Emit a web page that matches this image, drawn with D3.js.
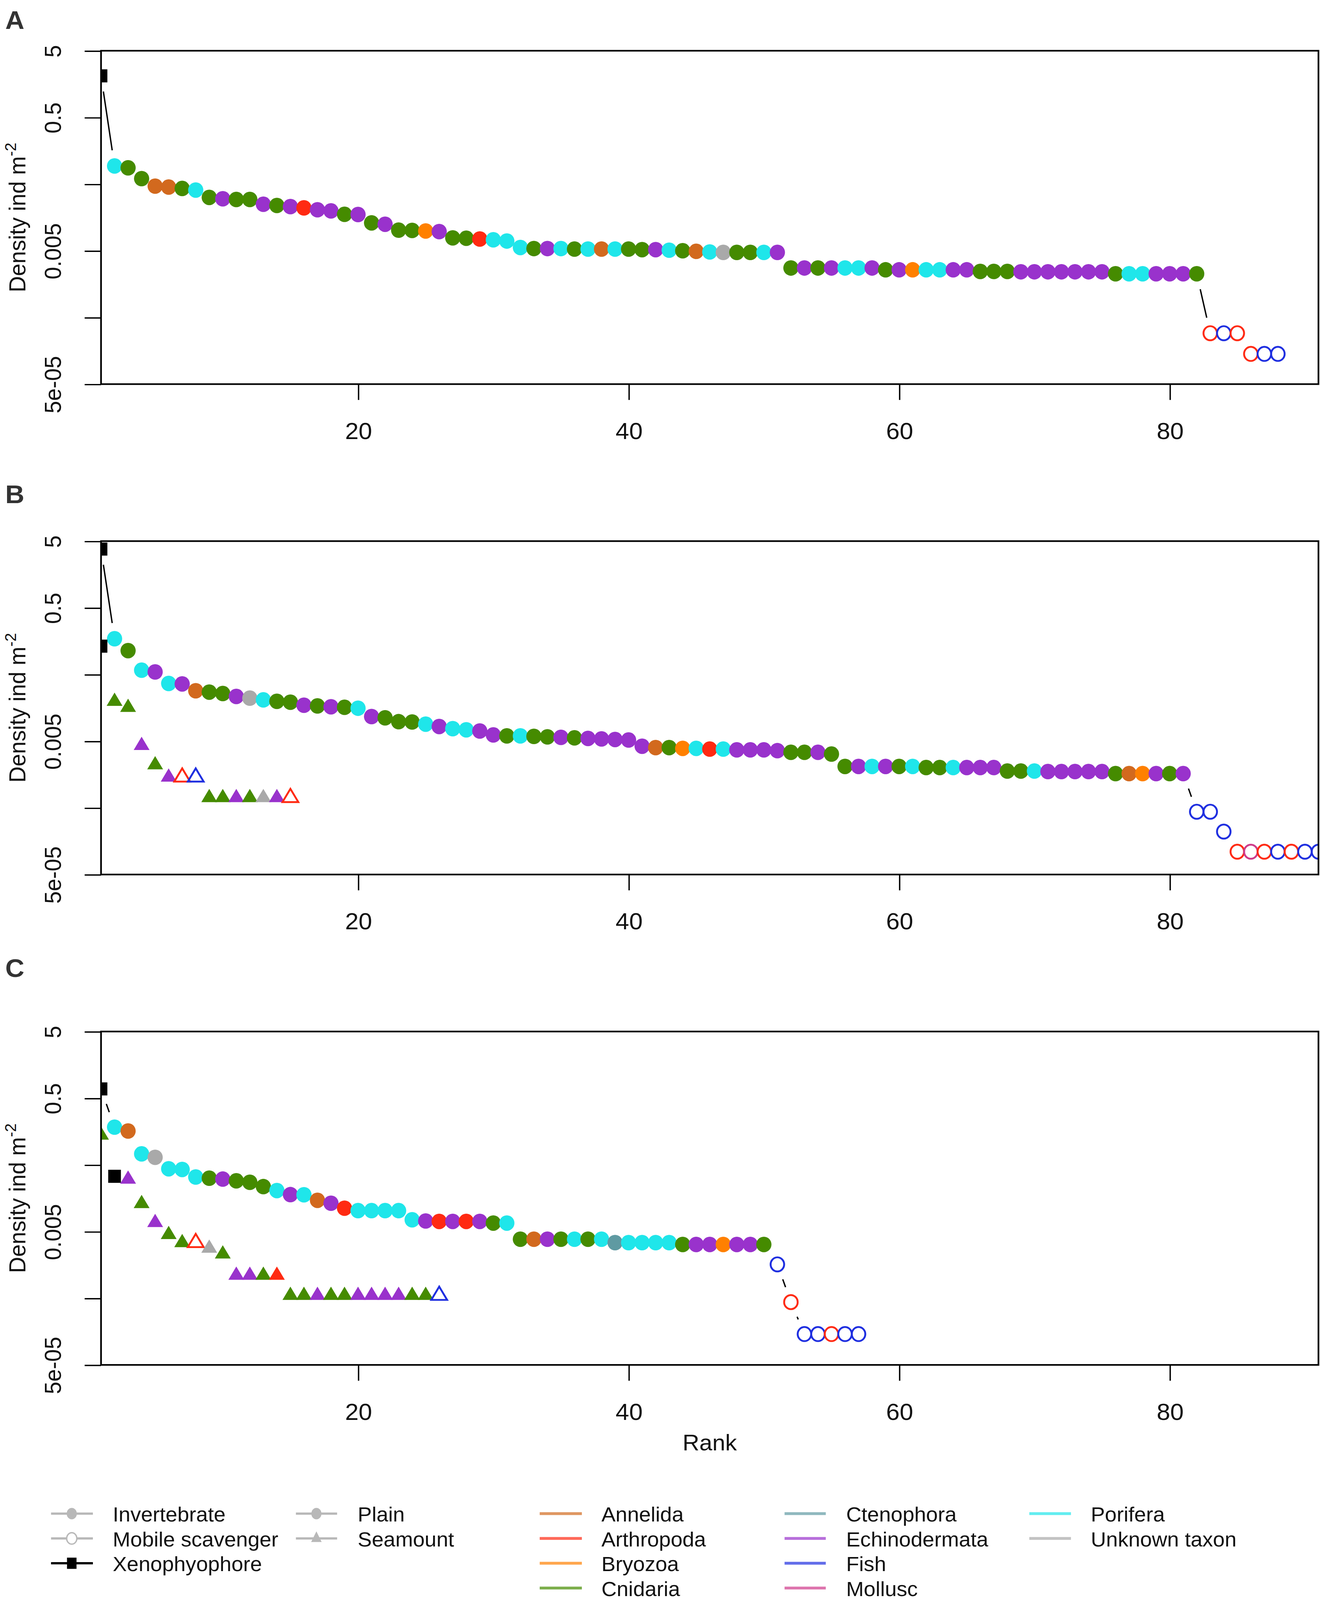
<!DOCTYPE html>
<html>
<head>
<meta charset="utf-8">
<script src="https://cdn.jsdelivr.net/npm/d3@7"></script>
<style>
  html, body { margin: 0; padding: 0; background: #fff; overflow: hidden; }
  svg { display: block; }
  text { font-family: "Liberation Sans", Arial, Helvetica, sans-serif; }
</style>
</head>
<body>
<div id="fig"></div>
<script>
// ---- categories ----
var taxa = ["Annelida", "Arthropoda", "Bryozoa", "Cnidaria", "Ctenophora",
            "Echinodermata", "Fish", "Mollusc", "Porifera", "Unknown taxon"];
var taxonCodes = ["An", "Ar", "Br", "Cn", "Ct", "Ec", "Fi", "Mo", "Po", "Un"];
var taxonColours = ["#d2691e", "#ff2a12", "#ff8000", "#458b00", "#5f9aa2",
                    "#9932cc", "#1f2fe0", "#cf3b8a", "#1fe6ea", "#a9a9a9"];
var guilds = ["Invertebrate", "Mobile scavenger", "Xenophyophore"];
var habitats = ["Plain", "Seamount"];
var panelLetters = ["A", "B", "C"];

// ---- axis ticks ----
var yTicks = [5, 0.5, 0.05, 0.005, 0.0005, 0.00005];
var yTickLabels = ["5", "0.5", "", "0.005", "", "5e-05"];
var xTicks = [20, 40, 60, 80];

// taxon codes: Xe = xenophyophore, Capitalised = invertebrate (filled),
// lower case = mobile scavenger (open)

// ---- panel A ----
var plainA_density = [2.1, 0.0935, 0.0877, 0.0604, 0.0466, 0.0451, 0.0430, 0.0407, 0.0316, 0.0301,
  0.0294, 0.0294, 0.0249, 0.0239, 0.0230, 0.0220, 0.0206, 0.0198, 0.0176, 0.0175,
  0.0131, 0.0125, 0.0102, 0.0101, 0.0099, 0.0097, 0.0078, 0.0077, 0.0075, 0.0073,
  0.0070, 0.0056, 0.0054, 0.0054, 0.0054, 0.0053, 0.0053, 0.0053, 0.0053, 0.0053,
  0.0052, 0.0052, 0.0051, 0.0050, 0.0049, 0.0048, 0.00473, 0.00473, 0.00473, 0.00473,
  0.00473, 0.00276, 0.00276, 0.00276, 0.00276, 0.00276, 0.00276, 0.00276, 0.00259, 0.00259,
  0.00259, 0.00259, 0.00259, 0.00259, 0.00259, 0.00245, 0.00245, 0.00245, 0.00242, 0.00242,
  0.00242, 0.00242, 0.00242, 0.00242, 0.00242, 0.00226, 0.00226, 0.00226, 0.00226, 0.00226,
  0.00226, 0.00226, 0.00029, 0.00029, 0.00029, 0.000142, 0.000142, 0.000142];
var plainA_taxon = ("Xe Po Cn Cn An An Cn Po Cn Ec " +
  "Cn Cn Ec Cn Ec Ar Ec Ec Cn Ec " +
  "Cn Ec Cn Cn Br Ec Cn Cn Ar Po " +
  "Po Po Cn Ec Po Cn Po An Po Cn " +
  "Cn Ec Po Cn An Po Un Cn Cn Po " +
  "Ec Cn Ec Cn Ec Po Po Ec Cn Ec " +
  "Br Po Po Ec Ec Cn Cn Cn Ec Ec " +
  "Ec Ec Ec Ec Ec Cn Po Po Ec Ec " +
  "Ec Cn ar fi ar ar fi fi").split(" ");
var seaA_density = [];
var seaA_taxon = [];

// ---- panel B ----
var plainB_density = [3.8, 0.172, 0.114, 0.058, 0.0546, 0.0367, 0.0361, 0.0285, 0.0272, 0.0259,
  0.0234, 0.0221, 0.0208, 0.0198, 0.0192, 0.0173, 0.0169, 0.0164, 0.0161, 0.0156,
  0.0117, 0.0112, 0.0098, 0.0097, 0.0090, 0.0083, 0.0077, 0.0074, 0.0071, 0.0062,
  0.0060, 0.0060, 0.0059, 0.0058, 0.0057, 0.0056, 0.0055, 0.0054, 0.0053, 0.0052,
  0.0042, 0.0040, 0.0040, 0.0039, 0.0039, 0.0038, 0.0038, 0.0037, 0.0037, 0.0037,
  0.0036, 0.0034, 0.0034, 0.0034, 0.0032, 0.00209, 0.00209, 0.00209, 0.00209, 0.00209,
  0.00209, 0.00201, 0.00201, 0.00201, 0.00201, 0.00201, 0.00201, 0.00178, 0.00178, 0.00178,
  0.00175, 0.00175, 0.00175, 0.00175, 0.00175, 0.00163, 0.00163, 0.00163, 0.00163, 0.00163,
  0.00163, 0.000437, 0.000437, 0.00022, 0.00011, 0.00011, 0.00011, 0.00011, 0.00011, 0.00011, 0.00011];
var plainB_taxon = ("Xe Po Cn Po Ec Po Ec An Cn Cn " +
  "Ec Un Po Cn Cn Ec Cn Ec Cn Po " +
  "Ec Cn Cn Cn Po Ec Po Po Ec Ec " +
  "Cn Po Cn Cn Ec Cn Ec Ec Ec Ec " +
  "Ec An Cn Br Po Ar Po Ec Ec Ec " +
  "Ec Cn Cn Ec Cn Cn Ec Po Ec Cn " +
  "Po Cn Cn Po Ec Ec Ec Cn Cn Po " +
  "Ec Ec Ec Ec Ec Cn An Br Ec Cn " +
  "Ec fi fi fi ar mo ar fi ar fi fi").split(" ");
var seaB_density = [0.133, 0.0197, 0.016, 0.0043, 0.0022, 0.00144, 0.00144, 0.00144,
  0.00071, 0.00071, 0.00071, 0.00071, 0.00071, 0.00071, 0.00071];
var seaB_taxon = "Xe Cn Cn Ec Cn Ec ar fi Cn Cn Ec Cn Un Ec ar".split(" ");

// ---- panel C ----
var plainC_density = [0.689, 0.184, 0.161, 0.0731, 0.0649, 0.0437, 0.0427, 0.0329, 0.0316, 0.0306,
  0.0288, 0.0274, 0.0236, 0.0206, 0.0179, 0.0178, 0.0147, 0.0133, 0.0112, 0.0103,
  0.0103, 0.0103, 0.0103, 0.0075, 0.0072, 0.0071, 0.0071, 0.0071, 0.0071, 0.0067,
  0.0067, 0.00384, 0.00384, 0.00384, 0.00384, 0.00384, 0.00384, 0.00384, 0.00341, 0.00341,
  0.00341, 0.00341, 0.00341, 0.0032, 0.0032, 0.0032, 0.0032, 0.0032, 0.0032, 0.0032,
  0.00161, 0.000437, 0.000145, 0.000145, 0.000145, 0.000145, 0.000145];
var plainC_taxon = ("Xe Po An Po Un Po Po Po Cn Ec " +
  "Cn Cn Cn Po Ec Po An Ec Ar Po " +
  "Po Po Po Po Ec Ar Ec Ar Ec Cn " +
  "Po Cn An Ec Cn Po Cn Po Ct Po " +
  "Po Po Po Cn Ec Ec Br Ec Ec Cn " +
  "fi ar fi fi ar fi fi").split(" ");
var seaC_density = [0.139, 0.0337, 0.0304, 0.0131, 0.0068, 0.0045, 0.0034, 0.0034, 0.0028, 0.0023,
  0.0011, 0.0011, 0.0011, 0.0011, 0.00055, 0.00055, 0.00055, 0.00055, 0.00055, 0.00055,
  0.00055, 0.00055, 0.00055, 0.00055, 0.00055, 0.00055];
var seaC_taxon = ("Cn Xe Ec Cn Ec Cn Cn ar Un Cn " +
  "Ec Ec Cn Ar Cn Cn Ec Cn Cn Ec " +
  "Ec Ec Ec Cn Cn fi").split(" ");

var panels = [
  {plain: plainA_density, plainTax: plainA_taxon, sea: seaA_density, seaTax: seaA_taxon},
  {plain: plainB_density, plainTax: plainB_taxon, sea: seaB_density, seaTax: seaB_taxon},
  {plain: plainC_density, plainTax: plainC_taxon, sea: seaC_density, seaTax: seaC_taxon}
];

// ---- layout (drawn in a 1250-wide frame, stretched to the window) ----
var W = 1250, H = 1567.4;
var left = 95.6, right = 1247.6;
var panelTop = 49.7, panelH = 326.6, panelStep = 480.4;
var lineGap = 15.5;

var vw = window.innerWidth || 3383, vh = window.innerHeight || 4242;
var svg = d3.select("#fig").append("svg")
  .attr("width", vw).attr("height", vh)
  .attr("viewBox", "0 0 " + W + " " + H)
  .attr("preserveAspectRatio", "none");
svg.append("rect").attr("width", W).attr("height", H).attr("fill", "#fff");

function colourOf(code) {
  var k = taxonCodes.indexOf(code.charAt(0).toUpperCase() + code.charAt(1));
  return taxonColours[k];
}

function trianglePath(cx, cy) {
  var w = 15, h = 13;
  return "M" + cx + "," + (cy - 2 * h / 3) + "L" + (cx + w / 2) + "," + (cy + h / 3) +
         "L" + (cx - w / 2) + "," + (cy + h / 3) + "Z";
}

function drawPoints(g, vals, tax, x, y, shape) {
  vals.forEach(function(v, i) {
    var code = tax[i], cx = x(i + 1), cy = y(v);
    if (code === "Xe") {
      g.append("rect").attr("x", cx - 6).attr("y", cy - 6.4)
        .attr("width", 12).attr("height", 12.8).attr("fill", "#000");
      return;
    }
    var open = code.charAt(0) === code.charAt(0).toLowerCase();
    var col = colourOf(code);
    var el;
    if (shape === "circle") {
      el = g.append("ellipse").attr("cx", cx).attr("cy", cy)
        .attr("rx", open ? 6.4 : 7.2).attr("ry", open ? 6.9 : 7.6);
    } else {
      el = g.append("path").attr("d", trianglePath(cx, cy));
    }
    if (open) el.attr("fill", "none").attr("stroke", col).attr("stroke-width", 1.8);
    else el.attr("fill", col);
  });
}

panels.forEach(function(p, i) {
  var top = panelTop + i * panelStep, bottom = top + panelH;
  var x = d3.scaleLinear().domain([1, 91]).range([left, right]);
  var y = d3.scaleLog().domain([5e-05, 5]).range([bottom, top]);
  var g = svg.append("g");

  g.append("clipPath").attr("id", "clip" + i)
    .append("rect").attr("x", left).attr("y", top)
    .attr("width", right - left).attr("height", panelH);
  var plot = g.append("g").attr("clip-path", "url(#clip" + i + ")");

  // connecting line of the plain series (R type "b": gaps round points)
  var pts = p.plain.map(function(v, k) { return [x(k + 1), y(v)]; });
  for (var k = 1; k < pts.length; k++) {
    var dx = pts[k][0] - pts[k - 1][0], dy = pts[k][1] - pts[k - 1][1];
    var len = Math.sqrt(dx * dx + dy * dy);
    if (len <= 2 * lineGap) continue;
    var ux = dx / len, uy = dy / len;
    plot.append("line")
      .attr("x1", pts[k - 1][0] + ux * lineGap).attr("y1", pts[k - 1][1] + uy * lineGap)
      .attr("x2", pts[k][0] - ux * lineGap).attr("y2", pts[k][1] - uy * lineGap)
      .attr("stroke", "#000").attr("stroke-width", 1.3);
  }

  drawPoints(plot, p.plain, p.plainTax, x, y, "circle");
  drawPoints(plot, p.sea, p.seaTax, x, y, "triangle");

  // box
  g.append("rect").attr("x", left).attr("y", top)
    .attr("width", right - left).attr("height", panelH)
    .attr("fill", "none").attr("stroke", "#000").attr("stroke-width", 1.6);

  // y axis
  var ya = g.append("g").attr("transform", "translate(" + left + ",0)")
    .call(d3.axisLeft(y).tickValues(yTicks)
      .tickFormat(function(d, j) { return yTickLabels[j]; }).tickSize(15.5));
  ya.select(".domain").remove();
  ya.selectAll(".tick line").attr("stroke", "#000").attr("stroke-width", 1.3);
  ya.selectAll(".tick text")
    .attr("transform", "rotate(-90)").attr("x", 0).attr("y", -38).attr("dy", 0)
    .attr("text-anchor", "middle").attr("fill", "#111")
    .style("font-size", "22px").style("font-family", "Liberation Sans, Arial, sans-serif");

  // x axis
  var xa = g.append("g").attr("transform", "translate(0," + bottom + ")")
    .call(d3.axisBottom(x).tickValues(xTicks).tickFormat(d3.format("d"))
      .tickSize(15.5).tickPadding(22));
  xa.select(".domain").remove();
  xa.selectAll(".tick line").attr("stroke", "#000").attr("stroke-width", 1.3);
  xa.selectAll(".tick text").attr("fill", "#111")
    .style("font-size", "23px").style("font-family", "Liberation Sans, Arial, sans-serif");

  // y title
  var yt = g.append("text")
    .attr("transform", "translate(24," + (top + panelH / 2) + ") rotate(-90)")
    .attr("text-anchor", "middle").attr("fill", "#111").style("font-size", "22px");
  yt.append("tspan").text("Density ind m");
  yt.append("tspan").attr("dy", -9).style("font-size", "15px").text("-2");

  // panel letter
  svg.append("text").attr("x", 5).attr("y", [28.5, 492.8, 957.1][i])
    .attr("fill", "#333").style("font-size", "25px").style("font-weight", "bold")
    .text(panelLetters[i]);

  if (i === 2) {
    svg.append("text").attr("x", (left + right) / 2).attr("y", 1421)
      .attr("text-anchor", "middle").attr("fill", "#111").style("font-size", "22px")
      .text("Rank");
  }
});

// ---- legend ----
var legY0 = 1482.8, legDy = 24.3;
var leg = svg.append("g").style("font-size", "20px");
var gray = "#b8b8b8";

function legLine(x1, x2, yy, col, w) {
  leg.append("line").attr("x1", x1).attr("x2", x2).attr("y1", yy).attr("y2", yy)
    .attr("stroke", col).attr("stroke-width", w);
}
function legText(xx, yy, s) {
  leg.append("text").attr("x", xx).attr("y", yy + 7.8).attr("fill", "#111").text(s);
}

guilds.forEach(function(name, j) {
  var yy = legY0 + j * legDy, cx = 67.9;
  if (j === 2) {
    legLine(48.3, 87.9, yy, "#000", 2.2);
    leg.append("rect").attr("x", cx - 4.5).attr("y", yy - 5.5).attr("width", 9).attr("height", 11).attr("fill", "#000");
  } else {
    legLine(48.3, 87.9, yy, gray, 2.2);
    var c = leg.append("ellipse").attr("cx", cx).attr("cy", yy).attr("rx", 4.8).attr("ry", 5.6);
    if (j === 0) c.attr("fill", gray);
    else c.attr("fill", "#fff").attr("stroke", gray).attr("stroke-width", 1.3);
  }
  legText(106.7, yy, name);
});

habitats.forEach(function(name, j) {
  var yy = legY0 + j * legDy, cx = 299.4;
  legLine(280, 319, yy, gray, 2.2);
  if (j === 0) {
    leg.append("ellipse").attr("cx", cx).attr("cy", yy).attr("rx", 4.8).attr("ry", 5.6).attr("fill", gray);
  } else {
    leg.append("path").attr("fill", gray)
      .attr("d", "M" + cx + "," + (yy - 7) + "L" + (cx + 5) + "," + (yy + 3.5) + "L" + (cx - 5) + "," + (yy + 3.5) + "Z");
  }
  legText(338.5, yy, name);
});

var taxCols = [[510.7, 550.6, 569.1], [742.4, 781.4, 800.7], [974, 1013.4, 1032.2]];
taxa.forEach(function(name, j) {
  var col = Math.floor(j / 4), row = j % 4;
  var c = taxCols[col], yy = legY0 + row * legDy;
  leg.append("line").attr("x1", c[0]).attr("x2", c[1]).attr("y1", yy).attr("y2", yy)
    .attr("stroke", taxonColours[j]).attr("stroke-width", 2.8).attr("stroke-opacity", 0.7);
  legText(c[2], yy, name);
});
</script>
</body>
</html>
